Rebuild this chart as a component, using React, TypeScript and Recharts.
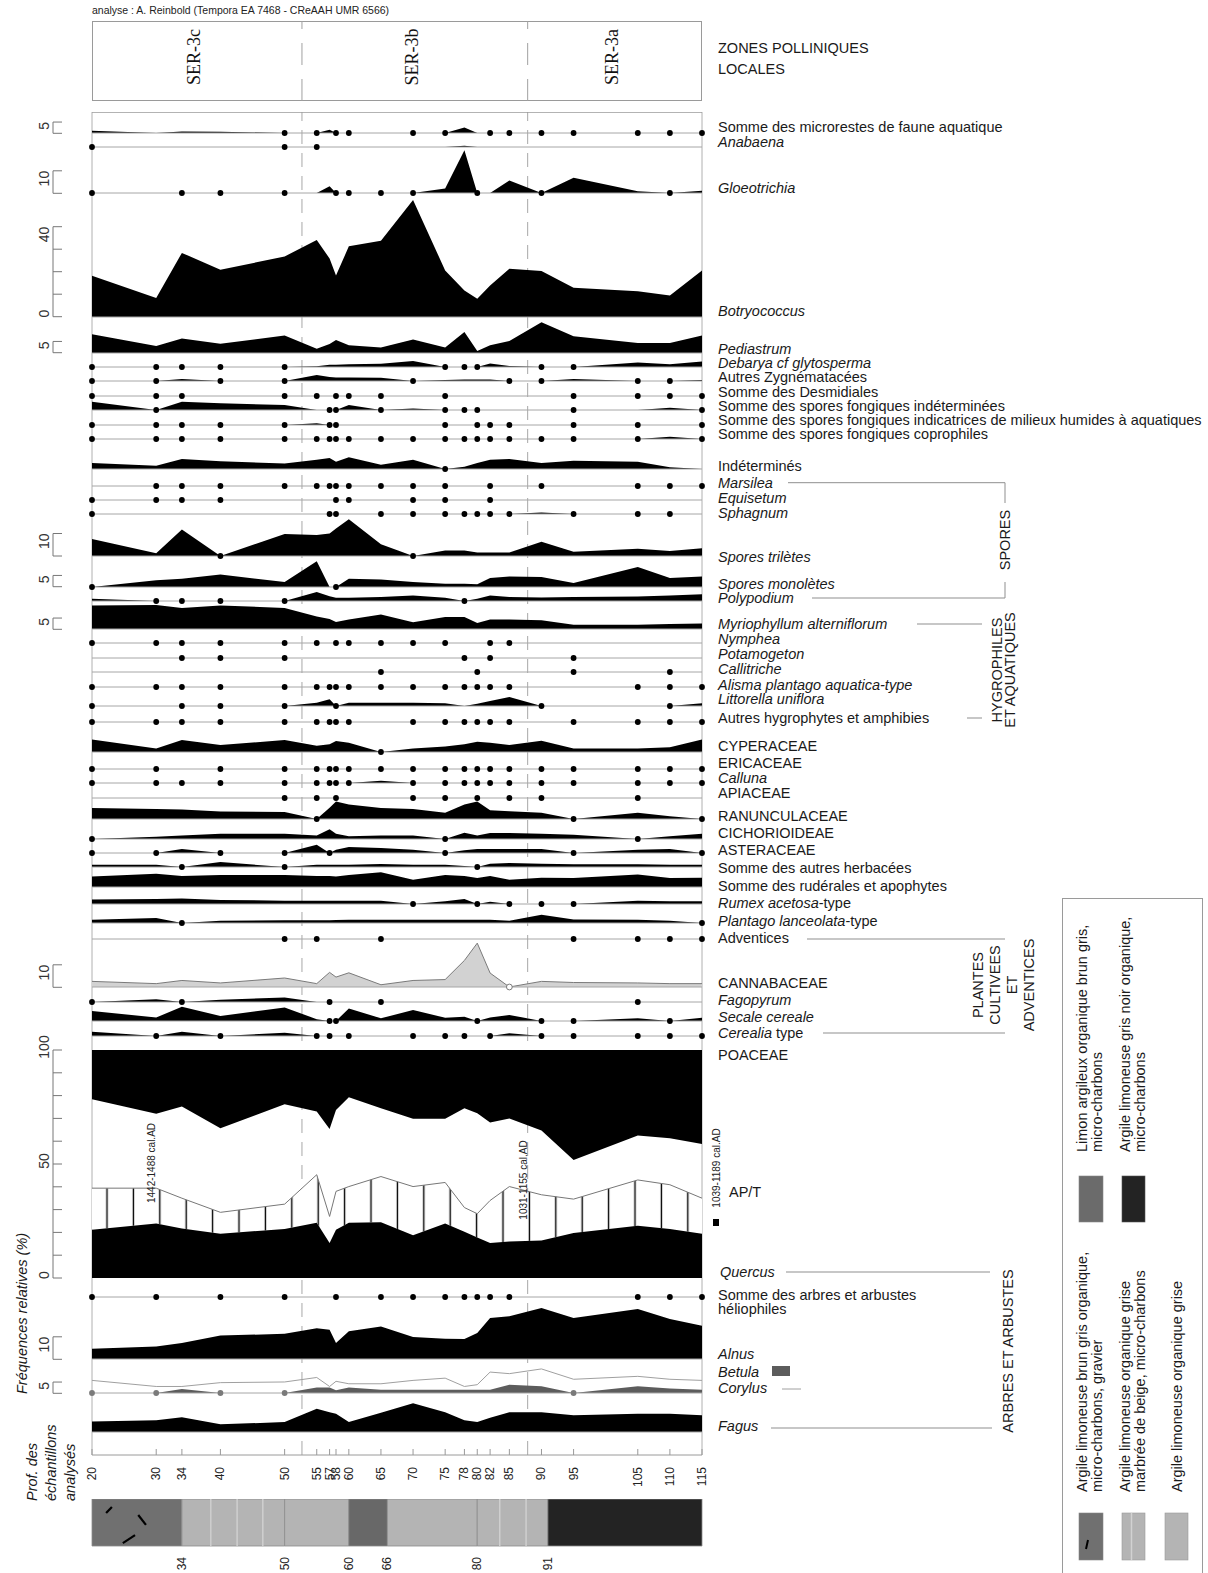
import React from "react";
import { ComposedChart, Area, Line, XAxis, YAxis, ReferenceLine, ReferenceArea } from "recharts";

// profondeurs des échantillons (cm)
const depths = [20, 30, 34, 40, 50, 55, 57, 58, 60, 65, 70, 75, 78, 80, 82, 85, 90, 95, 105, 110, 115];

// taxons présents à l'état de traces seulement (points)
const absent = [0, 0, 0, 0, 0, 0, 0, 0, 0, 0, 0, 0, 0, 0, 0, 0, 0, 0, 0, 0, 0];

const faune = [1.0, 0, 0.7, 0.6, 0, 0, 1.5, 0, 0, 0, 0, 0, 2.5, 0, 0, 0, 0, 0, 0, 0, 0];
const fauneDots = [50, 55, 58, 60, 70, 75, 82, 85, 90, 95, 105, 110, 115];
const anabaena = [0, 0, 0, 0, 0, 0, 0, 0, 0, 0, 0, 0, 0.6, 0, 0, 0, 0, 0, 0, 0, 0];
const anabaenaDots = [20, 50, 55];
const gloeo = [0, 0, 0, 0, 0, 0, 3, 0, 0, 0, 0, 2, 19, 0, 0, 5.6, 0, 6.8, 0.8, 0, 1];
const gloeoDots = [20, 34, 40, 50, 58, 60, 65, 70, 80, 90, 110];
const botryo = [18.3, 8.4, 28.5, 21, 26.9, 34.2, 26, 18.4, 31.4, 33.9, 52, 20.7, 11.8, 8.1, 14, 21.4, 20.4, 13, 11.5, 9.6, 20.7];
const pedia = [8.3, 3.1, 6.4, 4.1, 7.8, 1.9, 4, 5.8, 3.4, 2.4, 6, 2.4, 9.3, 0.9, 3.4, 5.3, 13.7, 7.4, 4.4, 4.4, 7.8];
const debarya = [0, 0, 0, 0, 0, 0.3, 1, 1, 1.2, 1.5, 2.7, 0, 0, 0, 1.6, 0.5, 0, 0, 2, 1.2, 2.4];
const debaryaDots = [20, 30, 34, 40, 50, 75, 78, 80, 90, 95];
const zygn = [0, 0, 0.9, 0, 0, 2.7, 1.8, 1.6, 1.6, 1.5, 0, 0.4, 0.7, 0.7, 0.7, 0, 0, 0.9, 0, 0, 0.5];
const zygnDots = [20, 30, 40, 50, 70, 85, 90, 105, 110];
const desmidDots = [20, 30, 34, 50, 55, 58, 60, 65, 75, 95, 105, 110, 115];
const sporInd = [3.7, 0, 3.7, 3, 2.2, 0, 0, 0, 2.2, 0, 0.7, 0, 0, 0, 0, 0, 0, 0, 0, 1, 0];
const sporIndDots = [30, 57, 58, 65, 75, 78, 80, 95, 115];
const sporHum = [0, 0, 0, 0, 0, 0.8, 0, 0, 0, 0, 0, 0, 0, 0, 0, 0, 0, 0, 0, 0, 0];
const sporHumDots = [20, 30, 34, 40, 50, 57, 58, 75, 80, 82, 85, 95, 105, 115];
const sporCopro = [0, 0, 0, 0, 0, 0, 0, 0, 0, 0, 0, 0, 0, 0, 0, 0, 0, 0, 0, 1, 0];
const sporCoproDots = [20, 30, 34, 40, 50, 55, 57, 58, 60, 65, 70, 75, 78, 80, 82, 85, 90, 95, 105, 115];
const indet = [2.7, 1.5, 4.4, 3.4, 2.4, 4.1, 4.9, 3.2, 5.2, 1.9, 4.1, 0, 1, 2.7, 4.1, 4.4, 2.7, 3.7, 3.2, 0.8, 0];
const indetDots = [75];
const marsileaDots = [30, 34, 40, 50, 55, 57, 58, 60, 65, 70, 75, 82, 90, 105, 110, 115];
const equisetumDots = [20, 30, 34, 40, 58, 60, 70, 75, 82];
const sphagnum = [0, 0, 0, 0, 0, 0, 0, 0, 0, 0, 0, 0, 0, 0, 0, 0, 0.7, 0, 0, 0, 0];
const sphagnumDots = [20, 57, 58, 65, 70, 75, 78, 80, 82, 85, 95, 105, 110];
const trilete = [7.6, 1.2, 11.8, 0, 9.8, 9.3, 10, 12.2, 16.3, 5.2, 0, 2.4, 2.4, 1.6, 1.6, 1.6, 6.3, 1.9, 3.2, 2.2, 3.4];
const triletDots = [40, 70];
const monolete = [0, 3, 3.7, 5.6, 2.2, 11.5, 0, 0, 3.7, 3.3, 2.2, 1.5, 1.5, 1.2, 4, 4.7, 4.4, 1.8, 8.9, 4, 4.7];
const monoleteDots = [20, 58];
const polypod = [1, 0, 0, 0, 0, 4, 2.1, 1.5, 1.5, 1.8, 2.4, 1.5, 0, 1, 2.4, 1.8, 1.6, 1.8, 2, 2.4, 3];
const polypodDots = [30, 34, 40, 50, 78];
const myrio = [10.4, 10.7, 9.3, 10.5, 9.3, 5.6, 4.4, 3.1, 4.2, 6.4, 3, 5.3, 5.3, 2.7, 4.2, 4.2, 3.9, 1.9, 1.9, 2.2, 2.4];
const nympheaDots = [20, 30, 34, 40, 50, 55, 58, 60, 65, 70, 75, 82, 85];
const potamoDots = [34, 40, 50, 78, 82, 95];
const callitricheDots = [65, 80, 95, 110];
const alismaDots = [20, 30, 34, 40, 50, 55, 57, 58, 60, 65, 70, 75, 78, 80, 82, 85, 105, 110, 115];
const littorella = [0, 0, 0, 0, 0, 1.5, 3, 0, 1.5, 1.5, 1.5, 1.2, 0, 1, 2.2, 4, 0, 0, 0, 0, 1.2];
const littorellaDots = [20, 34, 40, 50, 58, 90, 110];
const hygroDots = [20, 30, 34, 40, 50, 55, 57, 58, 60, 70, 75, 78, 80, 82, 85, 95, 105, 110, 115];
const cyper = [5.6, 1.6, 5.3, 3.1, 5.3, 2.8, 3.5, 4.9, 4.1, 0, 1.6, 2.4, 3.5, 4.6, 4.1, 3.1, 5, 1.6, 1.6, 2.1, 5.6];
const cyperDots = [65];
const ericaDots = [20, 30, 40, 50, 55, 57, 58, 60, 65, 70, 75, 78, 80, 82, 85, 90, 95, 105, 110, 115];
const calluna = [0, 0, 0, 0, 0, 0, 0, 0, 0, 1, 0, 0, 0, 0, 0, 0, 0, 0, 0, 0, 0];
const callunaDots = [20, 30, 34, 40, 50, 55, 57, 58, 60, 70, 75, 78, 80, 82, 85, 90, 95, 105, 110, 115];
const apiaDots = [50, 55, 58, 70, 75, 80, 85, 90, 105];
const ranunc = [4.9, 4.4, 4.2, 3.3, 3.1, 0, 5, 7.8, 6.4, 4.9, 4.4, 2.8, 6.4, 7.8, 3.9, 3.5, 2.8, 0, 2.8, 1.2, 0];
const ranuncDots = [55, 95, 115];
const cichor = [0, 1, 1.6, 2.3, 2.3, 1.6, 4.3, 2.3, 1.2, 1.6, 1.6, 0, 2.8, 1.6, 2.7, 2.7, 2.3, 1.9, 0, 1.2, 2.3];
const cichorDots = [20, 75, 105];
const aster = [0, 0, 1.8, 0, 0, 3.7, 0, 1.5, 2.7, 2.2, 1.5, 0, 1.2, 1.8, 1.8, 1.8, 1.8, 0, 1.5, 1.8, 0];
const asterDots = [20, 30, 40, 50, 57, 75, 95, 115];
const autresHerb = [1, 1, 0, 2.2, 0, 1, 1, 1, 1, 1.3, 1, 1, 0.5, 0, 1.5, 1.8, 1.5, 1.2, 1.2, 1, 1];
const autresHerbDots = [34, 50, 80];
const ruderal = [4.7, 5.9, 4.9, 5.3, 5.3, 4.9, 4.9, 4.7, 5.3, 6.6, 3.2, 5.3, 4.9, 4, 4.9, 3.2, 4.1, 4, 5.6, 4, 4.1];
const rumex = [2, 2.2, 2.4, 1.8, 1.5, 1.5, 1.5, 1.5, 1.5, 1.5, 0, 1.2, 2.2, 0, 1, 0, 0, 0, 1.5, 1.2, 1.2];
const rumexDots = [70, 80, 85, 90, 95];
const plantago = [1.5, 2.2, 0, 1, 1.2, 1.2, 1.2, 1.3, 1.5, 1.5, 1.5, 1.5, 1.5, 1.5, 1.5, 1, 3.7, 1.6, 1.5, 1, 0];
const plantagoDots = [34, 115];
const adventDots = [50, 55, 65, 95, 105, 110, 115];
const cannab = [2.5, 1.5, 2.9, 1.8, 4, 1.5, 6.5, 4.4, 6.3, 1, 2.9, 3.3, 11.8, 19.5, 6.2, 0, 2.5, 2, 1.8, 1.5, 1.5];
const cannabOpen = [85];
const fagopyrum = [0, 1.2, 0, 1, 2, 0, 0, 0, 0, 0, 0, 0, 0, 0, 0, 0, 0, 0, 0, 0, 0];
const fagopyrumDots = [20, 34, 57, 65, 105];
const secale = [4.4, 1.6, 6.3, 2.2, 6, 0.8, 0, 0, 5.6, 1.2, 4.9, 1.5, 1.9, 0, 1.6, 2.7, 0, 0, 1.2, 0, 1.5];
const secaleDots = [57, 58, 80, 90, 95, 110];
const cerealia = [1.9, 0, 1.9, 0, 1.5, 0, 0, 0, 0, 0, 0, 0, 0, 0, 0, 1.2, 0, 0, 0, 0, 0];
const cerealiaDots = [30, 40, 55, 57, 60, 70, 75, 78, 82, 90, 95, 105, 110, 115];

// diagramme cumulatif (%)
const quercus = [21.2, 23.9, 21.7, 19.4, 21.5, 24.2, 15.3, 21.2, 24.2, 24.5, 18.7, 23.9, 20.3, 17.8, 15.3, 16, 16.5, 19.7, 22.9, 21.5, 19.4];
const apT = [39.4, 39.4, 35, 28.8, 32.4, 45.3, 27, 38, 40.1, 44.5, 40.1, 41.9, 30.9, 28.2, 34, 40.1, 36.5, 34.6, 43, 40.9, 35];
const poaceaeLimit = [78.4, 72, 75.2, 65.7, 76.2, 73, 65.3, 73.7, 79.3, 74.5, 69.8, 69.8, 74.5, 72.3, 68.2, 70, 64.7, 51.8, 62.5, 61.3, 58.8];

const helioDots = [20, 30, 40, 50, 58, 65, 70, 75, 78, 80, 82, 85, 105, 110, 115];
const alnus = [4.6, 5.6, 7.1, 10.4, 11.2, 13.7, 13, 7.1, 12.3, 14.5, 9.8, 9, 8.9, 11.6, 18.2, 19, 22.7, 18.2, 22.2, 17.8, 14.8];
const betula = [0, 0, 1.8, 0, 0, 2.5, 2.5, 1.2, 2.5, 1.5, 1.5, 1.5, 1.5, 1.5, 1.5, 3.7, 3, 0, 3, 2, 1.5];
const betulaDots = [20, 30, 40, 50, 95];
const corylus = [5.6, 2.9, 2.9, 4.6, 4.9, 6.9, 2.9, 5.2, 4.1, 4.1, 5.6, 6.6, 2.9, 3.7, 9.3, 8.6, 10.7, 6.1, 7.4, 6.1, 5.6];
const fagus = [4.7, 5.2, 6.6, 3.4, 4.4, 10.3, 8.8, 8.1, 4.4, 8.6, 12.8, 8.8, 5.2, 4.4, 6.3, 8.8, 8.8, 7.4, 8.1, 8.1, 7.4];

// zones polliniques
const zoneNames = ["SER-3c", "SER-3b", "SER-3a"];
const zoneFrom = [20, 52.7, 87.85];
const zoneTo = [52.7, 87.85, 115];

// lithologie
const lithoFrom = [20, 34, 50, 60, 66, 80, 91];
const lithoTo = [34, 50, 60, 66, 80, 91, 115];
const lithoFacies = ["gravier", "marbre", "grise", "brun", "grise", "marbre", "noir"];
const lithoTicks = [34, 50, 60, 66, 80, 91];
const marbleLines = [38.5, 42.6, 46.6, 83.5, 87.6];
const gravelMarks = [
  [23.1, 0.83, 22.2, 0.7],
  [27.2, 0.66, 28.4, 0.45],
  [26.7, 0.23, 24.8, 0.06],
];

const faciesFill: Record<string, string> = {
  gravier: "#707070",
  marbre: "#b4b4b4",
  grise: "#b4b4b4",
  brun: "#686868",
  noir: "#232323",
};

const X0 = 92;
const X1 = 702;
const PAD = 6;
const W = X1 - X0 + 2 * PAD;
const K = 2.25; // px par %
const FONT = "'Liberation Sans', Arial, Helvetica, sans-serif";
const frameData = depths.map((depth) => ({ depth, z: 0 }));

type Part = [string, boolean?];

const rows: any[] = [
  { values: faune, dots: fauneDots, base: 133.3, ly: 127, label: [["Somme des microrestes de faune aquatique"]] },
  { values: anabaena, dots: anabaenaDots, base: 147, ly: 141.7, label: [["Anabaena", true]] },
  { values: gloeo, dots: gloeoDots, base: 193.3, ly: 188, label: [["Gloeotrichia", true]] },
  { values: botryo, base: 316.7, ly: 310.7, label: [["Botryococcus", true]] },
  { values: pedia, base: 352.7, ly: 349, label: [["Pediastrum", true]] },
  { values: debarya, dots: debaryaDots, base: 367, ly: 363.3, label: [["Debarya cf glytosperma", true]] },
  { values: zygn, dots: zygnDots, base: 381, ly: 377.3, label: [["Autres Zygnématacées"]] },
  { values: absent, dots: desmidDots, base: 395.7, ly: 391.7, label: [["Somme des Desmidiales"]] },
  { values: sporInd, dots: sporIndDots, base: 410, ly: 406, label: [["Somme des spores fongiques indéterminées"]] },
  { values: sporHum, dots: sporHumDots, base: 424.7, ly: 420, label: [["Somme des spores fongiques indicatrices de milieux humides à aquatiques"]] },
  { values: sporCopro, dots: sporCoproDots, base: 438.7, ly: 434, label: [["Somme des spores fongiques coprophiles"]] },
  { values: indet, dots: indetDots, base: 469.3, ly: 466, label: [["Indéterminés"]] },
  { values: absent, dots: marsileaDots, base: 485.7, ly: 482.7, label: [["Marsilea", true]] },
  { values: absent, dots: equisetumDots, base: 500.3, ly: 498, label: [["Equisetum", true]] },
  { values: sphagnum, dots: sphagnumDots, base: 514.3, ly: 512.7, label: [["Sphagnum", true]] },
  { values: trilete, dots: triletDots, base: 556, ly: 556.7, label: [["Spores trilètes", true]] },
  { values: monolete, dots: monoleteDots, base: 586.7, ly: 584, label: [["Spores monolètes", true]] },
  { values: polypod, dots: polypodDots, base: 600.7, ly: 598, label: [["Polypodium", true]] },
  { values: myrio, base: 629.3, ly: 624, label: [["Myriophyllum alterniflorum", true]] },
  { values: absent, dots: nympheaDots, base: 643.3, ly: 639, label: [["Nymphea", true]] },
  { values: absent, dots: potamoDots, base: 657.7, ly: 654, label: [["Potamogeton", true]] },
  { values: absent, dots: callitricheDots, base: 672, ly: 669, label: [["Callitriche", true]] },
  { values: absent, dots: alismaDots, base: 686.7, ly: 685, label: [["Alisma plantago aquatica-type", true]] },
  { values: littorella, dots: littorellaDots, base: 705.7, ly: 699, label: [["Littorella uniflora", true]] },
  { values: absent, dots: hygroDots, base: 721.7, ly: 718, label: [["Autres hygrophytes et amphibies"]] },
  { values: cyper, dots: cyperDots, base: 752, ly: 746, label: [["CYPERACEAE"]] },
  { values: absent, dots: ericaDots, base: 769, ly: 763, label: [["ERICACEAE"]] },
  { values: calluna, dots: callunaDots, base: 783.3, ly: 778, label: [["Calluna", true]] },
  { values: absent, dots: apiaDots, base: 797.7, ly: 793, label: [["APIACEAE"]] },
  { values: ranunc, dots: ranuncDots, base: 819.3, ly: 816, label: [["RANUNCULACEAE"]] },
  { values: cichor, dots: cichorDots, base: 838.7, ly: 833, label: [["CICHORIOIDEAE"]] },
  { values: aster, dots: asterDots, base: 853.3, ly: 850, label: [["ASTERACEAE"]] },
  { values: autresHerb, dots: autresHerbDots, base: 866.7, ly: 868, label: [["Somme des autres herbacées"]] },
  { values: ruderal, base: 886.7, ly: 886, label: [["Somme des rudérales et apophytes"]] },
  { values: rumex, dots: rumexDots, base: 904, ly: 903, label: [["Rumex acetosa", true], ["-type"]] },
  { values: plantago, dots: plantagoDots, base: 923.3, ly: 921, label: [["Plantago lanceolata", true], ["-type"]] },
  { values: absent, dots: adventDots, base: 939, ly: 938, label: [["Adventices"]] },
  { values: cannab, open: cannabOpen, base: 987.3, ly: 983, fill: "#d2d2d2", stroke: "#7a7a7a", label: [["CANNABACEAE"]] },
  { values: fagopyrum, dots: fagopyrumDots, base: 1002, ly: 1000, label: [["Fagopyrum", true]] },
  { values: secale, dots: secaleDots, base: 1021, ly: 1017, label: [["Secale cereale", true]] },
  { values: cerealia, dots: cerealiaDots, base: 1036, ly: 1033, label: [["Cerealia", true], [" type"]] },
  { values: absent, dots: helioDots, base: 1297.3, ly: 1295, label: [["Somme des arbres et arbustes"]] },
  { values: alnus, base: 1359.3, ly: 1354, label: [["Alnus", true]] },
  { values: betula, dots: betulaDots, dotColor: "#7a7a7a", fill: "#5c5c5c", line: corylus, base: 1393.3, ly: 1372, label: [["Betula", true]] },
  { values: fagus, base: 1431.7, ly: 1426, label: [["Fagus", true]] },
];

const extraLabels: { y: number; x?: number; parts: Part[] }[] = [
  { y: 1055, parts: [["POACEAE"]] },
  { y: 1192, x: 729, parts: [["AP/T"]] },
  { y: 1272, x: 720, parts: [["Quercus", true]] },
  { y: 1309, parts: [["héliophiles"]] },
  { y: 1388, parts: [["Corylus", true]] },
];

const scales = [
  { base: 133.3, ticks: [0, 5], labels: [[5, "top"]] },
  { base: 193.3, ticks: [0, 10], labels: [[10, "top"]] },
  { base: 316.7, ticks: [0, 10, 20, 30, 40], labels: [[40, "top"], [0, "mid"]] },
  { base: 352.7, ticks: [0, 5], labels: [[5, "top"]] },
  { base: 556, ticks: [0, 10], labels: [[10, "top"]] },
  { base: 586.7, ticks: [0, 5], labels: [[5, "top"]] },
  { base: 629.3, ticks: [0, 5], labels: [[5, "top"]] },
  { base: 987.3, ticks: [0, 10], labels: [[10, "top"]] },
  { base: 1278, k: 2.28, ticks: [0, 10, 20, 30, 40, 50, 60, 70, 80, 90, 100], labels: [[100, "mid"], [50, "mid"], [0, "mid"]] },
  { base: 1359.3, ticks: [0, 10], labels: [[10, "top"]] },
  { base: 1393.3, ticks: [0, 5], labels: [[5, "top"]] },
];

function dotRenderer(dots: number[], open: number[], color: string) {
  return (p: any) => {
    const d = p.payload ? p.payload.depth : null;
    if (dots.includes(d)) return <circle key={`d${p.index}`} cx={p.cx} cy={p.cy} r={2.9} fill={color} />;
    if (open.includes(d))
      return <circle key={`o${p.index}`} cx={p.cx} cy={p.cy} r={2.9} fill="#fff" stroke="#7a7a7a" strokeWidth={1} />;
    return <g key={`n${p.index}`} />;
  };
}

function Row({ r }: { r: any }) {
  const { values, dots = [], open = [], base, fill = "#000", stroke = "none", line, dotColor = "#000" } = r;
  const max = Math.max(...values, ...(line || [0]));
  const h = Math.max(6, Math.ceil(max * K) + 3);
  const data = depths.map((depth, i) => ({ depth, v: values[i], c: line ? line[i] : 0 }));
  return (
    <div style={{ position: "absolute", left: X0 - PAD, top: base - h }}>
      <ComposedChart width={W} height={h + PAD} data={data} margin={{ top: 0, right: PAD, bottom: PAD, left: PAD }}>
        <XAxis type="number" dataKey="depth" domain={[20, 115]} hide />
        <YAxis type="number" domain={[0, h / K]} hide />
        <ReferenceLine y={0} stroke="#a6a6a6" strokeWidth={1} />
        <Area
          type="linear"
          dataKey="v"
          fill={fill}
          fillOpacity={1}
          stroke={stroke}
          strokeWidth={1}
          isAnimationActive={false}
          dot={dotRenderer(dots, open, dotColor)}
          activeDot={false}
        />
        {line && (
          <Line type="linear" dataKey="c" stroke="#a0a0a0" strokeWidth={1} dot={false} activeDot={false} isAnimationActive={false} />
        )}
      </ComposedChart>
    </div>
  );
}

function PoaceaePanel() {
  const top = 1050;
  const bottom = 1278;
  const data = depths.map((depth, i) => ({ depth, a: quercus[i], b: apT[i], c: poaceaeLimit[i] }));
  return (
    <div style={{ position: "absolute", left: X0 - PAD, top }}>
      <ComposedChart width={W} height={bottom - top} data={data} margin={{ top: 0, right: PAD, bottom: 0, left: PAD }}>
        <XAxis type="number" dataKey="depth" domain={[20, 115]} hide />
        <YAxis type="number" domain={[0, 100]} hide />
        <Area type="linear" dataKey={(d: any) => [d.c, 100]} fill="#000" fillOpacity={1} stroke="none" isAnimationActive={false} activeDot={false} />
        <Area type="linear" dataKey={(d: any) => [d.a, d.b]} fill="url(#hatch)" fillOpacity={1} stroke="none" isAnimationActive={false} activeDot={false} />
        <Area type="linear" dataKey="a" fill="#000" fillOpacity={1} stroke="none" isAnimationActive={false} activeDot={false} />
        <Line type="linear" dataKey="b" stroke="#777" strokeWidth={1} dot={false} activeDot={false} isAnimationActive={false} />
      </ComposedChart>
    </div>
  );
}

const renderDepthTick = (p: any) => (
  <g key={`t${p.index}`}>
    <line x1={p.x} x2={p.x} y1={p.y} y2={p.y - 6} stroke="#999" />
    <text transform={`translate(${p.x + 4},${p.y + 12}) rotate(-90)`} textAnchor="end" fontSize={12} fontFamily={FONT} fill="#222">
      {p.payload.value}
    </text>
  </g>
);

const renderLithoTick = (p: any) => (
  <text key={`l${p.index}`} transform={`translate(${p.x + 4},${p.y + 11}) rotate(-90)`} textAnchor="end" fontSize={12} fontFamily={FONT} fill="#222">
    {p.payload.value}
  </text>
);

function Frame() {
  const top = 112;
  const axisY = 1455;
  return (
    <div style={{ position: "absolute", left: X0 - PAD, top }}>
      <ComposedChart width={W} height={axisY - top + 40} data={frameData} margin={{ top: 0, right: PAD, bottom: 0, left: PAD }}>
        <XAxis
          xAxisId="top"
          orientation="top"
          type="number"
          dataKey="depth"
          domain={[20, 115]}
          ticks={depths}
          interval={0}
          tick={false}
          tickSize={5}
          mirror
          axisLine={{ stroke: "#9a9a9a", strokeWidth: 1.6 }}
          tickLine={{ stroke: "#9a9a9a" }}
        />
        <XAxis
          xAxisId="bot"
          orientation="bottom"
          type="number"
          dataKey="depth"
          domain={[20, 115]}
          ticks={depths}
          interval={0}
          tick={renderDepthTick}
          tickLine={false}
          tickSize={0}
          tickMargin={0}
          height={40}
          axisLine={{ stroke: "#9a9a9a" }}
        />
        <YAxis type="number" domain={[0, 1]} hide />
        <ReferenceLine xAxisId="bot" x={20} stroke="#b0b0b0" />
        <ReferenceLine xAxisId="bot" x={115} stroke="#b0b0b0" />
        {zoneTo.slice(0, 2).map((z) => (
          <ReferenceLine key={z} xAxisId="bot" x={z} stroke="#a8a8a8" strokeDasharray="14 9" />
        ))}
        <Line xAxisId="bot" dataKey="z" stroke="none" dot={false} activeDot={false} isAnimationActive={false} />
      </ComposedChart>
    </div>
  );
}

function Header() {
  const top = 21;
  const h = 80;
  return (
    <>
      <div
        style={{ position: "absolute", left: X0, top, width: X1 - X0, height: h, border: "1px solid #9a9a9a", boxSizing: "border-box" }}
      />
      <div style={{ position: "absolute", left: X0 - PAD, top }}>
        <ComposedChart width={W} height={h} data={frameData} margin={{ top: 0, right: PAD, bottom: 0, left: PAD }}>
          <XAxis type="number" dataKey="depth" domain={[20, 115]} hide />
          <YAxis type="number" domain={[0, 1]} hide />
          {zoneNames.map((name, i) => (
            <ReferenceArea
              key={name}
              x1={zoneFrom[i]}
              x2={zoneTo[i]}
              y1={0}
              y2={1}
              fill="none"
              stroke="none"
              label={(lp: any) => {
                const vb = lp.viewBox || {};
                const cx = vb.x + vb.width / 2;
                const cy = vb.y + vb.height / 2 - 4;
                return (
                  <text
                    transform={`translate(${cx + 3},${cy}) rotate(-90)`}
                    textAnchor="middle"
                    fontSize={18}
                    fontFamily="'Liberation Serif', 'Times New Roman', serif"
                    fill="#111"
                  >
                    {name}
                  </text>
                );
              }}
            />
          ))}
          {zoneTo.slice(0, 2).map((z) => (
            <ReferenceLine key={z} x={z} stroke="#a0a0a0" strokeDasharray="22 14" />
          ))}
          <Line dataKey="z" stroke="none" dot={false} activeDot={false} isAnimationActive={false} />
        </ComposedChart>
      </div>
    </>
  );
}

function Litho() {
  const top = 1499;
  const barH = 47;
  return (
    <div style={{ position: "absolute", left: X0 - PAD, top }}>
      <ComposedChart width={W} height={barH + 40} data={frameData} margin={{ top: 0, right: PAD, bottom: 0, left: PAD }}>
        <XAxis
          type="number"
          dataKey="depth"
          domain={[20, 115]}
          ticks={lithoTicks}
          interval={0}
          tick={renderLithoTick}
          tickLine={false}
          axisLine={false}
          tickSize={0}
          tickMargin={0}
          height={40}
        />
        <YAxis type="number" domain={[0, 1]} hide />
        {lithoFrom.map((f, i) => (
          <ReferenceArea
            key={`a${i}`}
            x1={f}
            x2={lithoTo[i]}
            y1={0}
            y2={1}
            fill={faciesFill[lithoFacies[i]]}
            fillOpacity={1}
            stroke="#8c8c8c"
            strokeWidth={0.8}
          />
        ))}
        {marbleLines.map((x) => (
          <ReferenceLine key={x} x={x} stroke="#cfcfcf" strokeWidth={1.5} />
        ))}
        {gravelMarks.map((g, i) => (
          <ReferenceLine key={`g${i}`} segment={[{ x: g[0], y: g[1] }, { x: g[2], y: g[3] }]} stroke="#000" strokeWidth={2.2} />
        ))}
        <Line dataKey="z" stroke="none" dot={false} activeDot={false} isAnimationActive={false} />
      </ComposedChart>
    </div>
  );
}

function LabelText({ x = 718, y, parts }: { x?: number; y: number; parts: Part[] }) {
  return (
    <text x={x} y={y} dominantBaseline="central" fontSize={14.5} fontFamily={FONT} fill="#1a1a1a">
      {parts.map(([t, it], i) => (
        <tspan key={i} fontStyle={it ? "italic" : "normal"}>
          {t}
        </tspan>
      ))}
    </text>
  );
}

function VText({ x, y, anchor = "middle", size = 14.5, italic = false, children, fill = "#1a1a1a", family = FONT }: any) {
  return (
    <text
      transform={`translate(${x},${y}) rotate(-90)`}
      textAnchor={anchor}
      fontSize={size}
      fontStyle={italic ? "italic" : "normal"}
      fontFamily={family}
      fill={fill}
    >
      {children}
    </text>
  );
}

function Overlay() {
  const g = "#8f8f8f";
  return (
    <svg width={1208} height={1573} style={{ position: "absolute", left: 0, top: 0, pointerEvents: "none" }}>
      <text x={92} y={14} fontSize={10.5} fontFamily={FONT} fill="#222">
        analyse : A. Reinbold (Tempora EA 7468 - CReAAH UMR 6566)
      </text>
      <text x={718} y={48} dominantBaseline="central" fontSize={14.5} fontFamily={FONT} fill="#1a1a1a">
        ZONES POLLINIQUES
      </text>
      <text x={718} y={69} dominantBaseline="central" fontSize={14.5} fontFamily={FONT} fill="#1a1a1a">
        LOCALES
      </text>

      {/* échelles */}
      {scales.map((s, i) => {
        const k = s.k || K;
        const topY = s.base - s.ticks[s.ticks.length - 1] * k;
        return (
          <g key={i}>
            <line x1={53} x2={53} y1={topY} y2={s.base} stroke="#777" strokeWidth={1} />
            {s.ticks.map((t) => (
              <line key={t} x1={53} x2={62} y1={s.base - t * k} y2={s.base - t * k} stroke="#777" strokeWidth={1} />
            ))}
            {s.labels.map(([v, mode]: any) => (
              <VText key={v} x={49} y={mode === "top" ? s.base - v * k : s.base - v * k - 3} anchor={mode === "top" ? "end" : "middle"} size={14} fill="#333">
                {v}
              </VText>
            ))}
          </g>
        );
      })}

      {rows.map((r, i) => (
        <LabelText key={i} y={r.ly} parts={r.label} />
      ))}
      {extraLabels.map((l, i) => (
        <LabelText key={`e${i}`} x={l.x} y={l.y} parts={l.parts} />
      ))}

      {/* légendes Betula / Corylus */}
      <rect x={772} y={1366} width={18} height={10} fill="#5c5c5c" />
      <line x1={782} x2={801} y1={1389} y2={1389} stroke="#a0a0a0" />

      {/* dates */}
      <VText x={155} y={1163} size={10} fill="#222">1442-1488 cal.AD</VText>
      <VText x={527} y={1180} size={10} fill="#222">1031-1155 cal.AD</VText>
      <VText x={720} y={1168} size={10} fill="#222">1039-1189 cal.AD</VText>
      <rect x={713} y={1219} width={6} height={7} fill="#000" />

      {/* groupes */}
      <polyline points="788,482.7 1005,482.7 1005,503" fill="none" stroke={g} />
      <polyline points="1005,582 1005,598 812,598" fill="none" stroke={g} />
      <VText x={1010} y={540}>SPORES</VText>

      <line x1={917} x2={982} y1={624} y2={624} stroke={g} />
      <line x1={967} x2={982} y1={718} y2={718} stroke={g} />
      <VText x={1002} y={670}>HYGROPHILES</VText>
      <VText x={1015} y={670}>ET AQUATIQUES</VText>

      <line x1={807} x2={1005} y1={939} y2={939} stroke={g} />
      <line x1={823} x2={1005} y1={1033} y2={1033} stroke={g} />
      <VText x={983} y={985}>PLANTES</VText>
      <VText x={1000} y={985}>CULTIVEES</VText>
      <VText x={1017} y={985}>ET</VText>
      <VText x={1034} y={985}>ADVENTICES</VText>

      <line x1={786} x2={990} y1={1272} y2={1272} stroke={g} />
      <line x1={771} x2={992} y1={1428} y2={1428} stroke={g} />
      <VText x={1013} y={1351}>ARBRES ET ARBUSTES</VText>

      {/* titres gauche */}
      <VText x={27} y={1394} anchor="start" italic>Fréquences relatives (%)</VText>
      <VText x={37} y={1501} anchor="start" italic>Prof. des</VText>
      <VText x={56} y={1501} anchor="start" italic>échantillons</VText>
      <VText x={75} y={1501} anchor="start" italic>analysés</VText>

      {/* légende lithologique */}
      <rect x={1062.5} y={898.5} width={140} height={700} fill="none" stroke="#9a9a9a" />
      <rect x={1079} y={1176} width={24} height={46} fill="#6b6b6b" stroke="#888" strokeWidth={0.6} />
      <VText x={1087} y={1152} anchor="start">Limon argileux organique brun gris,</VText>
      <VText x={1102} y={1152} anchor="start">micro-charbons</VText>
      <rect x={1122} y={1176} width={23} height={46} fill="#232323" stroke="#555" strokeWidth={0.6} />
      <VText x={1130} y={1152} anchor="start">Argile limoneuse gris noir organique,</VText>
      <VText x={1145} y={1152} anchor="start">micro-charbons</VText>

      <rect x={1079} y={1513} width={24} height={47} fill="#707070" stroke="#888" strokeWidth={0.6} />
      <line x1={1088} x2={1086} y1={1540} y2={1549} stroke="#000" strokeWidth={2} />
      <VText x={1087} y={1492} anchor="start">Argile limoneuse brun gris organique,</VText>
      <VText x={1102} y={1492} anchor="start">micro-charbons, gravier</VText>
      <rect x={1122} y={1513} width={23} height={47} fill="#b4b4b4" stroke="#999" strokeWidth={0.6} />
      <line x1={1131.5} x2={1131.5} y1={1513} y2={1560} stroke="#d2d2d2" strokeWidth={1.5} />
      <VText x={1130} y={1492} anchor="start">Argile limoneuse organique grise</VText>
      <VText x={1145} y={1492} anchor="start">marbrée de beige, micro-charbons</VText>
      <rect x={1165} y={1513} width={23} height={47} fill="#b4b4b4" stroke="#999" strokeWidth={0.6} />
      <VText x={1182} y={1492} anchor="start">Argile limoneuse organique grise</VText>
    </svg>
  );
}

export default function App() {
  return (
    <div style={{ position: "absolute", left: 0, top: 0, width: 1208, height: 1573, overflow: "hidden", background: "#fff", fontFamily: FONT }}>
      <svg width={0} height={0} style={{ position: "absolute" }}>
        <defs>
          <pattern id="hatch" patternUnits="userSpaceOnUse" width={26.4} height={10}>
            <rect width={26.4} height={10} fill="#fff" />
            <line x1={21} y1={0} x2={21} y2={10} stroke="#000" strokeWidth={1.4} />
          </pattern>
        </defs>
      </svg>
      <Header />
      <Frame />
      {rows.map((r, i) => (
        <Row key={i} r={r} />
      ))}
      <PoaceaePanel />
      <Litho />
      <Overlay />
    </div>
  );
}
